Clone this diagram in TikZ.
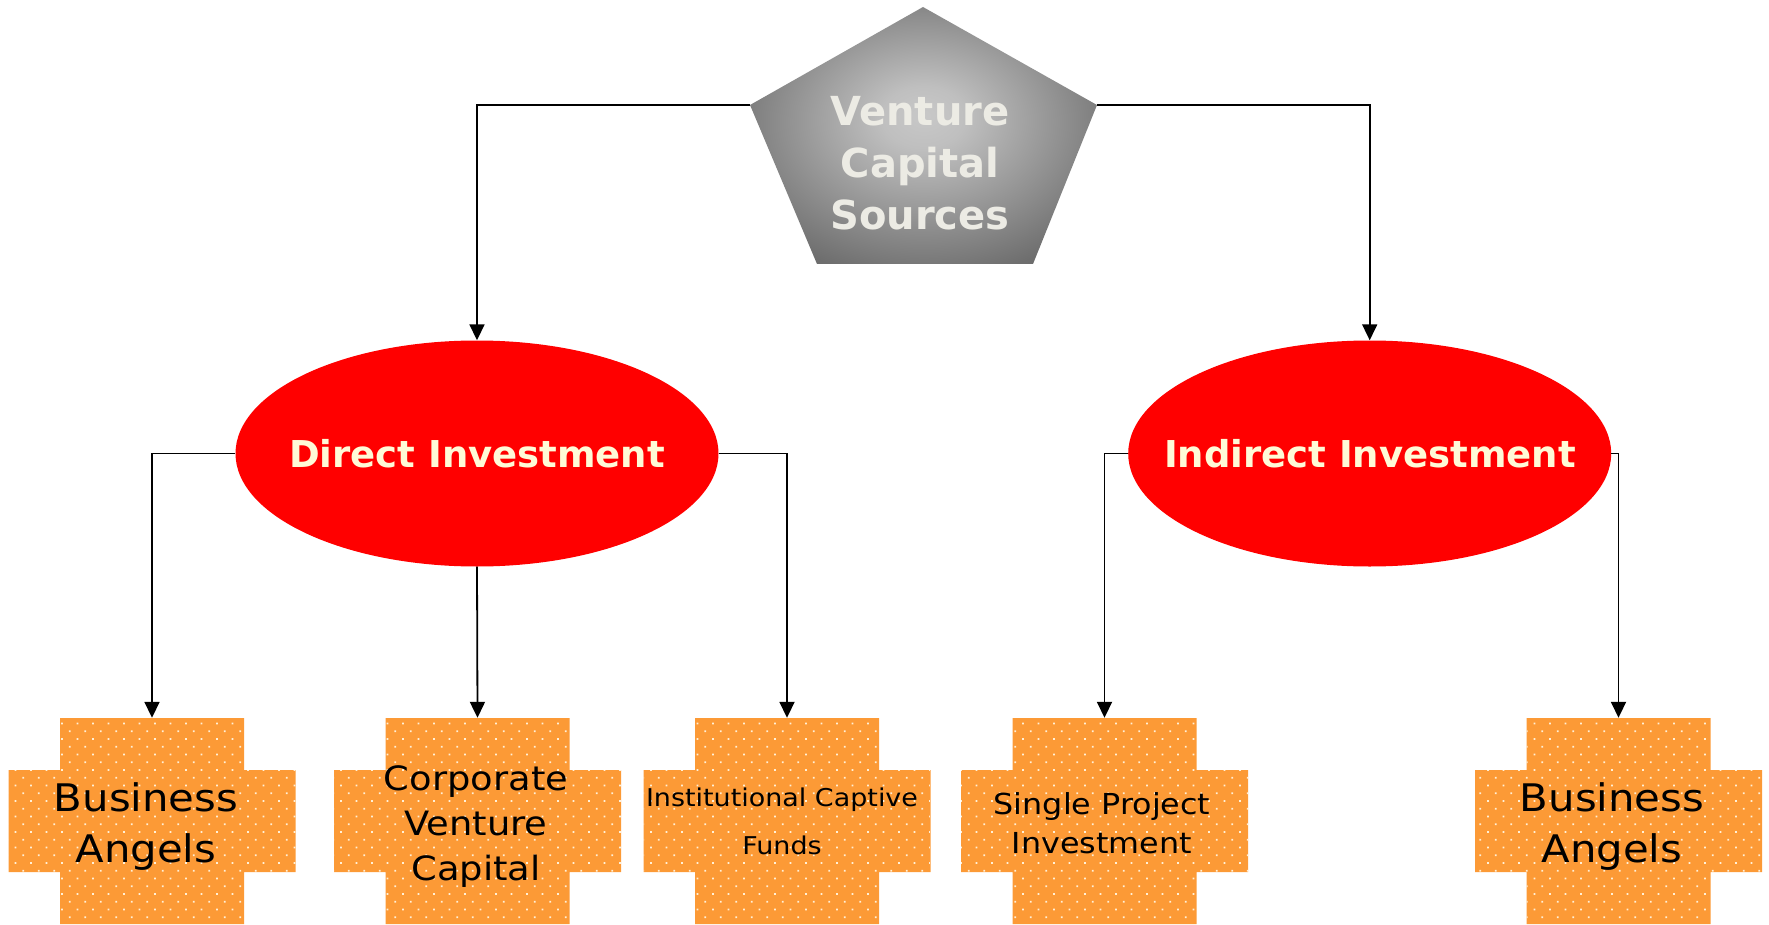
\documentclass[tikz,border=0pt]{standalone}
\usepackage{fontspec}
\setmainfont{DejaVu Sans}
\newfontfamily\xsans[FakeStretch=1.1]{DejaVu Sans}
\usetikzlibrary{shapes.geometric,arrows.meta,patterns.meta}
\definecolor{crossorange}{RGB}{252,154,54}
\definecolor{dotcol}{RGB}{255,240,215}
\definecolor{ellred}{RGB}{255,0,0}
\definecolor{cream}{RGB}{255,250,215}
\definecolor{penttext}{RGB}{236,235,228}
\definecolor{pentlight}{RGB}{200,200,200}
\definecolor{pentdark}{RGB}{88,88,88}
\pgfdeclareradialshading{pentshade}{\pgfpoint{0bp}{4bp}}{color(0bp)=(pentlight); color(6bp)=(pentlight!92!pentdark); color(30bp)=(pentdark!80!pentlight); color(42bp)=(pentdark); color(60bp)=(pentdark)}
\tikzset{
  conn/.style={draw=black, line width=1.8pt, -{Triangle[length=16pt,width=15pt]}},
  crossfill/.style={fill=crossorange, postaction={pattern={Dots[angle=45,distance=10.96pt,radius=1.2pt]}, pattern color=dotcol}},
  crossnode/.style={rectangle, minimum width=184pt, minimum height=206pt, inner sep=0pt},
  crosslabel/.style={align=center, inner sep=0pt, text=black},
  invest/.style={ellipse, fill=ellred, minimum width=483pt, minimum height=226pt, inner sep=0pt},
  investlabel/.style={inner sep=0pt, text=cream, font=\bfseries\fontsize{37}{40}\selectfont},
}
\newcommand\crossat[2]{%
  \begin{scope}[shift={(#2,821)}]
    \path[crossfill] (-92,-103) -- (92,-103) -- (92,-51) -- (143.5,-51) -- (143.5,51) -- (92,51) -- (92,103) -- (-92,103) -- (-92,51) -- (-143.5,51) -- (-143.5,-51) -- (-92,-51) -- cycle;
  \end{scope}
  \node[crossnode] (#1) at (#2,821) {};
}
\begin{document}
\begin{tikzpicture}[x=1pt,y=-1pt]
\useasboundingbox (0,0) rectangle (1769,925);
% pentagon
\coordinate (pT) at (923,7);
\coordinate (pL) at (750,105);
\coordinate (pR) at (1097,105);
\coordinate (pBL) at (817,264);
\coordinate (pBR) at (1033,264);
\shade[shading=pentshade] (pT) -- (pR) -- (pBR) -- (pBL) -- (pL) -- cycle;
\node[align=center, inner sep=0pt, text=penttext, font=\bfseries\fontsize{40}{52}\selectfont] (vcs) at (920,163.7) {Venture\\Capital\\Sources};
% ellipses
\node[invest] (dir) at (477,453.5) {};
\node[investlabel] (dirt) at (477,454) {Direct Investment};
\node[invest] (ind) at (1369.7,453.5) {};
\node[investlabel] (indt) at (1370,454) {Indirect Investment};
% crosses
\crossat{c1}{152}
\crossat{c2}{477.5}
\crossat{c3}{787}
\crossat{c4}{1104.5}
\crossat{c5}{1618.5}
\node[crosslabel, font=\xsans\fontsize{38}{51}\selectfont] (t1) at (146,827) {Business\\Angels};
\node[crosslabel, font=\xsans\fontsize{33.5}{44.7}\selectfont] (t2) at (476,826.4) {Corporate\\Venture\\Capital};
\node[crosslabel, font=\xsans\fontsize{24.5}{48}\selectfont] (t3) at (782,821.7) {Institutional Captive\\Funds};
\node[crosslabel, font=\xsans\fontsize{28.9}{39}\selectfont] (t4) at (1102,823.6) {Single Project\\Investment};
\node[crosslabel, font=\xsans\fontsize{38}{51}\selectfont] (t5) at (1612,827) {Business\\Angels};
% connectors
\draw[conn] (pL) -| (dir.north);
\draw[conn] (pR) -| (ind.north);
\draw[conn] (dir.west) -| (c1.north);
\draw[conn] (dir.south) -- (c2.north);
\draw[conn] (dir.east) -| (c3.north);
\draw[conn] (ind.west) -| (c4.north);
\draw[conn] (ind.east) -| (c5.north);
\end{tikzpicture}
\end{document}
